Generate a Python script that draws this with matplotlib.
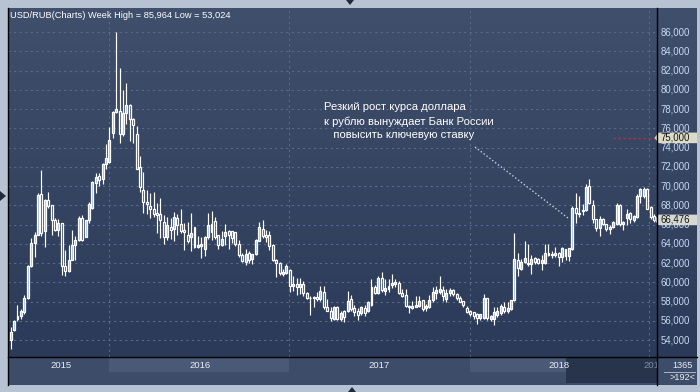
import numpy as np
import matplotlib
matplotlib.use("Agg")
import matplotlib.pyplot as plt
from matplotlib.patches import Rectangle, Polygon
from matplotlib.lines import Line2D
from matplotlib.colors import LinearSegmentedColormap

plt.rcParams['font.family'] = ['Liberation Sans', 'DejaVu Sans']

# ---------------- data (weekly USD/RUB candles) ----------------
opens = [54.04, 55.01, 56.19, 56.47, 56.92, 58.38, 61.74, 64.03, 64.96, 69.12,
         65.31, 68.53, 67.98, 66.45, 65.41, 66.11, 61.74, 61.22, 62.36, 63.92,
         64.44, 66.69, 64.72, 66.42, 67.73, 70.33, 71.03, 70.68, 72.24, 72.52,
         75.53, 77.68, 77.79, 75.36, 77.54, 78.37, 76.99, 75.36, 72.00, 69.59,
         68.38, 67.93, 67.62, 67.17, 67.07, 66.31, 64.66, 65.79, 65.55, 66.66,
         66.03, 65.45, 64.86, 64.66, 65.69, 63.62, 63.72, 63.48, 64.66, 66.03,
         66.38, 64.86, 63.90, 64.76, 65.34, 65.28, 65.21, 63.97, 62.79, 62.10,
         63.03, 62.45, 62.93, 64.31, 65.55, 64.86, 64.86, 63.90, 62.34, 62.00,
         60.90, 61.00, 61.24, 59.62, 59.86, 59.52, 59.86, 58.93, 58.41, 58.34,
         58.48, 58.24, 59.03, 57.45, 57.03, 56.17, 57.45, 56.17, 57.03, 56.97,
         58.24, 57.31, 56.97, 56.76, 57.31, 56.97, 57.66, 59.52, 58.93, 60.41,
         59.10, 59.28, 59.72, 59.79, 59.97, 58.93, 58.69, 57.55, 57.31, 57.45,
         57.55, 58.14, 57.31, 57.45, 58.14, 58.93, 59.03, 59.17, 58.24, 58.93,
         59.17, 58.83, 58.41, 58.07, 57.31, 57.03, 56.86, 56.69, 56.28, 56.28,
         58.34, 56.17, 56.17, 56.62, 56.76, 57.45, 57.03, 57.21, 58.14, 62.28,
         61.34, 62.14, 62.03, 61.86, 62.48, 62.38, 62.03, 62.03, 63.07, 62.83,
         62.83, 63.05, 62.59, 63.45, 62.76, 63.45, 67.76, 67.24, 67.41, 67.52,
         70.00, 68.00, 66.55, 65.59, 66.62, 66.03, 65.52, 65.69, 66.03, 68.00,
         66.03, 66.72, 67.24, 66.48, 66.83, 68.97, 68.97, 69.72, 67.86, 66.90]
highs = [55.33, 56.12, 57.68, 57.23, 58.72, 61.80, 64.61, 65.20, 69.29, 71.62,
         68.60, 69.36, 68.05, 66.69, 66.62, 66.20, 63.33, 63.92, 65.48, 64.79,
         66.87, 66.94, 66.45, 68.32, 70.51, 71.37, 71.30, 72.41, 74.32, 76.12,
         77.75, 85.96, 82.22, 79.93, 80.66, 78.48, 77.09, 76.23, 73.11, 71.48,
         69.59, 69.24, 69.41, 68.20, 68.80, 67.00, 66.80, 66.66, 67.28, 67.07,
         67.62, 66.14, 66.31, 67.24, 65.75, 64.76, 64.66, 64.76, 67.17, 67.41,
         66.83, 64.90, 65.28, 66.07, 65.45, 65.34, 65.25, 64.41, 63.03, 63.48,
         63.28, 62.98, 64.52, 66.31, 66.48, 65.45, 65.34, 63.95, 62.45, 62.10,
         61.34, 61.86, 61.34, 60.66, 60.48, 60.48, 60.14, 58.98, 58.59, 58.60,
         59.03, 59.62, 59.62, 58.24, 57.45, 57.50, 57.50, 57.03, 57.10, 59.10,
         58.69, 57.66, 57.31, 57.55, 57.66, 58.07, 60.31, 59.72, 60.66, 61.10,
         60.31, 60.31, 60.90, 60.31, 60.14, 59.28, 59.28, 57.66, 58.07, 58.59,
         58.59, 58.20, 57.79, 58.69, 59.52, 59.62, 60.66, 59.62, 59.28, 59.38,
         59.30, 58.90, 58.59, 58.10, 57.55, 57.10, 56.90, 56.76, 56.75, 58.83,
         58.40, 56.60, 57.45, 57.38, 57.79, 58.00, 58.00, 58.20, 65.14, 63.07,
         62.38, 64.28, 64.00, 62.83, 62.60, 62.50, 62.83, 63.93, 63.93, 63.20,
         63.62, 63.10, 63.62, 63.50, 63.55, 67.93, 69.31, 68.97, 68.10, 70.17,
         70.76, 68.55, 66.60, 66.90, 66.70, 66.10, 65.90, 66.35, 68.21, 68.10,
         66.35, 67.59, 67.25, 67.00, 69.14, 69.83, 69.93, 69.75, 67.90, 67.05]
lows = [53.02, 54.91, 55.95, 56.19, 56.75, 58.27, 61.60, 62.64, 64.90, 64.79,
        63.68, 67.73, 64.86, 65.31, 64.79, 60.80, 60.70, 61.04, 62.29, 62.36,
        64.27, 64.27, 64.65, 66.17, 67.63, 69.29, 69.99, 70.16, 71.79, 72.41,
        75.01, 77.60, 74.49, 75.19, 76.40, 74.67, 74.49, 71.72, 69.36, 67.17,
        67.07, 66.66, 66.83, 65.10, 64.59, 63.97, 64.41, 64.52, 64.24, 64.93,
        65.10, 63.38, 64.07, 63.28, 63.55, 63.55, 62.52, 62.69, 64.52, 64.41,
        64.52, 63.48, 63.72, 63.90, 63.48, 64.07, 63.72, 62.59, 62.10, 61.83,
        62.00, 61.90, 62.86, 64.24, 64.59, 64.17, 63.38, 62.17, 60.52, 60.80,
        60.66, 60.83, 59.03, 59.10, 58.69, 58.80, 58.59, 58.24, 56.62, 57.38,
        58.07, 58.07, 57.21, 56.97, 55.93, 56.07, 56.07, 56.00, 55.83, 56.86,
        57.03, 56.52, 56.07, 56.62, 56.50, 56.86, 57.55, 58.76, 58.76, 59.03,
        58.69, 59.03, 59.38, 59.52, 58.83, 58.48, 57.45, 56.76, 57.21, 57.38,
        57.45, 56.97, 57.03, 57.31, 57.90, 58.24, 58.83, 58.07, 58.00, 58.59,
        58.60, 58.14, 57.90, 57.45, 56.76, 56.52, 56.17, 55.66, 56.03, 56.17,
        56.07, 56.00, 55.52, 56.41, 56.62, 56.76, 56.80, 57.10, 58.07, 60.66,
        61.24, 62.03, 61.69, 60.90, 61.90, 61.90, 61.24, 61.86, 62.70, 62.50,
        62.60, 61.72, 62.07, 62.34, 62.24, 63.38, 66.14, 66.83, 66.97, 67.41,
        68.10, 66.14, 65.34, 64.83, 65.90, 65.34, 65.00, 65.60, 65.93, 65.85,
        65.45, 65.93, 66.14, 66.30, 66.72, 68.21, 68.79, 67.59, 66.62, 66.30]
closes = [54.80, 55.95, 56.47, 56.99, 58.38, 61.74, 64.03, 64.96, 69.02, 65.13,
          68.53, 67.91, 66.45, 65.41, 66.11, 61.74, 61.22, 62.36, 63.92, 64.44,
          66.69, 64.44, 66.42, 68.08, 70.40, 70.96, 70.61, 72.24, 72.93, 74.74,
          77.68, 77.96, 75.36, 77.54, 78.37, 76.99, 76.30, 71.79, 69.92, 68.38,
          68.10, 67.62, 67.07, 67.00, 66.48, 64.66, 65.90, 65.45, 66.83, 65.90,
          65.28, 65.21, 64.31, 65.10, 63.62, 63.83, 63.97, 64.66, 65.90, 65.21,
          64.66, 63.83, 64.52, 65.21, 64.93, 64.59, 63.97, 62.86, 62.24, 62.93,
          62.34, 62.93, 64.41, 65.79, 64.76, 64.66, 63.72, 62.34, 62.00, 60.97,
          61.10, 61.69, 59.62, 59.79, 59.52, 59.86, 58.93, 58.34, 58.34, 58.48,
          58.24, 59.10, 57.45, 57.03, 56.28, 57.45, 56.17, 56.76, 56.34, 58.07,
          57.21, 56.86, 56.62, 57.38, 56.76, 57.90, 59.52, 58.93, 60.41, 59.17,
          59.38, 59.62, 59.97, 60.07, 58.93, 58.59, 57.55, 57.38, 57.55, 57.66,
          58.07, 57.21, 57.55, 58.14, 59.03, 59.17, 59.28, 58.59, 58.93, 59.17,
          58.83, 58.34, 58.00, 57.66, 56.86, 56.69, 56.52, 56.28, 56.69, 58.41,
          56.28, 56.52, 56.86, 57.03, 57.55, 57.03, 57.31, 58.14, 62.38, 61.45,
          62.14, 62.48, 61.86, 62.38, 62.14, 62.03, 62.28, 63.07, 62.83, 62.97,
          63.07, 62.59, 63.52, 62.76, 63.52, 67.76, 67.24, 67.07, 67.52, 69.93,
          68.28, 66.55, 65.59, 66.62, 66.03, 65.52, 65.69, 66.28, 68.00, 66.03,
          66.28, 67.07, 66.55, 66.90, 68.97, 69.66, 69.72, 67.66, 66.83, 66.476]

price_ticks = [54, 56, 58, 60, 62, 64, 66, 68, 70, 72, 74, 76, 78, 80, 82, 84, 86]
year_breaks = [28.9, 81.9, 134.9, 187.4]       # candle index where a new year starts
year_labels = ['2015', '2016', '2017', '2018', '2019']
year_label_pos = [14.8, 55.7, 108.3, 161.0, 188.9]
last_price = 66.476
level_price = 75.0
title = 'USD/RUB(Charts) Week High = 85,964 Low = 53,024'
note_lines = ['Резкий рост курса доллара', 'к рублю вынуждает Банк России', '   повысить ключевую ставку']

# ---------------- layout helpers ----------------
W, H = 700, 392
FRAME = '#b7c3d3'
fig = plt.figure(figsize=(W / 100, H / 100), dpi=100, facecolor=FRAME)


def axpx(x0, y0, x1, y1):
    return fig.add_axes([x0 / W, 1 - y1 / H, (x1 - x0) / W, (y1 - y0) / H])


def fx(x):
    return x / W


def fy(y):
    return 1 - y / H


bg_cmap = LinearSegmentedColormap.from_list('bg', ['#2b3a58', '#404f6b'])
grad = np.linspace(0, 1, 256).reshape(-1, 1)

n = len(opens)
xs = np.arange(n)
o = np.array(opens); h = np.array(highs); l = np.array(lows); c = np.array(closes)
XLIM = (-0.79, n - 1 + 0.88)
YLIM = (52.234, 88.494)

# ---------------- main chart ----------------
ax = axpx(8, 8, 657, 357)
ax.imshow(grad, extent=[0, 1, 0, 1], transform=ax.transAxes, aspect='auto',
          cmap=bg_cmap, origin='lower', zorder=0)
ax.set_xlim(*XLIM)
ax.set_ylim(*YLIM)
ax.axis('off')

grid_kw = dict(color='#5a6986', lw=0.8, ls=(0, (2, 3)), zorder=1)
for v in price_ticks:
    ax.axhline(v, **grid_kw)
for xb in year_breaks:
    ax.axvline(xb, **grid_kw)

top = np.maximum(o, c)
bot = np.minimum(o, c)
up = c >= o
ax.vlines(xs, top, h, color='white', lw=0.85, zorder=3)
ax.vlines(xs, l, bot, color='white', lw=0.85, zorder=3)
hgt = np.maximum(top - bot, 0.06)
ax.bar(xs[up], hgt[up], bottom=bot[up], width=0.58, facecolor='#9fb8e4',
       edgecolor='white', lw=0.9, zorder=4)
ax.bar(xs[~up], hgt[~up], bottom=bot[~up], width=0.58, facecolor='none',
       edgecolor='white', lw=0.9, zorder=4)

# red dashed level line
ax.plot([177.1, XLIM[1]], [level_price, level_price], color='#b8303f', lw=0.9,
        ls=(0, (2, 2)), zorder=2)

# title
fig.text(fx(10), fy(15), title, color='white', fontsize=6.7, va='center', ha='left')

# annotation
for line, ypx in zip(note_lines, [107.5, 121.5, 135.5]):
    fig.text(fx(324), fy(ypx), line, color='white', fontsize=8.1, va='center', ha='left')
fig.add_artist(Line2D([fx(475), fx(568)], [fy(147), fy(218)], transform=fig.transFigure,
                      color='#c9d0dc', lw=1.0, ls=(0, (1, 1.6))))

# ---------------- right price axis ----------------
axr = axpx(657, 8, 697, 357)
axr.imshow(grad, extent=[0, 1, 0, 1], transform=axr.transAxes, aspect='auto',
           cmap=bg_cmap, origin='lower', zorder=0)
axr.set_xlim(0, 40)
axr.set_ylim(*YLIM)
axr.axis('off')
for v in price_ticks:
    axr.text(3.5, v, f'{v},000', color='#c8d9f2', fontsize=6.9, va='center', ha='left', zorder=2)


def price_box(v, face):
    hh = 0.55
    poly = Polygon([(-2.5, v), (1.5, v + hh), (40, v + hh), (40, v - hh), (1.5, v - hh)],
                   closed=True, facecolor=face, edgecolor='none', zorder=3, clip_on=False)
    axr.add_patch(poly)
    axr.text(3.5, v, f'{v:.3f}'.replace('.', ','), color='#151515', fontsize=6.9,
             va='center', ha='left', zorder=4)


price_box(level_price, '#dcdcc6')
price_box(last_price, '#d6d8d2')

# ---------------- bottom time strip ----------------
STRIP = '#3d4c68'
axb = axpx(8, 357, 657, 385)
axb.set_xlim(*XLIM)
axb.set_ylim(0, 28)
axb.axis('off')
axb.add_patch(Rectangle((0, 0), 1, 1, transform=axb.transAxes, facecolor=STRIP,
                        edgecolor='none', zorder=0))
axb.add_patch(Rectangle((year_breaks[0], 13), year_breaks[1] - year_breaks[0], 14,
                        facecolor='#4a5975', edgecolor='none', zorder=1))
axb.add_patch(Rectangle((year_breaks[2], 13), 163.0 - year_breaks[2], 14,
                        facecolor='#4a5975', edgecolor='none', zorder=1))
axb.add_patch(Rectangle((163.0, 2), XLIM[1] - 163.0, 25,
                        facecolor='#27344c', edgecolor='none', zorder=2))
for lab, xp in zip(year_labels, year_label_pos):
    col = '#e9eef6' if xp < 163 else '#7d8ba3'
    axb.text(xp, 19.3, lab, color=col, fontsize=6.8, ha='center', va='center',
             zorder=3, clip_on=True)

axbr = axpx(657, 357, 697, 385)
axbr.axis('off')
axbr.add_patch(Rectangle((0, 0), 1, 1, transform=axbr.transAxes, facecolor=STRIP,
                         edgecolor='none'))
fig.text(fx(683), fy(365), '1365', color='#e9eef6', fontsize=6.6, ha='center', va='center')
fig.add_artist(Line2D([fx(664), fx(695)], [fy(371.5), fy(371.5)], transform=fig.transFigure,
                      color='#aab6c8', lw=0.7))
fig.text(fx(683), fy(378), '>192<', color='#e9eef6', fontsize=6.6, ha='center', va='center')

# ---------------- borders & frame markers ----------------
for xa, ya in [([7.5, 7.5], [8, 385]), ([657, 657], [8, 385]), ([8, 697], [357, 357])]:
    fig.add_artist(Line2D([fx(v) for v in xa], [fy(v) for v in ya],
                          transform=fig.transFigure, color='black', lw=1.0))

tri_col = '#1f2a3b'
fig.add_artist(Polygon([(fx(346), fy(0)), (fx(354), fy(0)), (fx(350), fy(5))],
                       transform=fig.transFigure, facecolor=tri_col, edgecolor='none'))
fig.add_artist(Polygon([(fx(348), fy(392)), (fx(356), fy(392)), (fx(352), fy(387))],
                       transform=fig.transFigure, facecolor=tri_col, edgecolor='none'))
fig.add_artist(Polygon([(fx(0), fy(191)), (fx(0), fy(201)), (fx(6), fy(196))],
                       transform=fig.transFigure, facecolor=tri_col, edgecolor='none'))

fig.savefig('out.png', dpi=100, facecolor=FRAME)
